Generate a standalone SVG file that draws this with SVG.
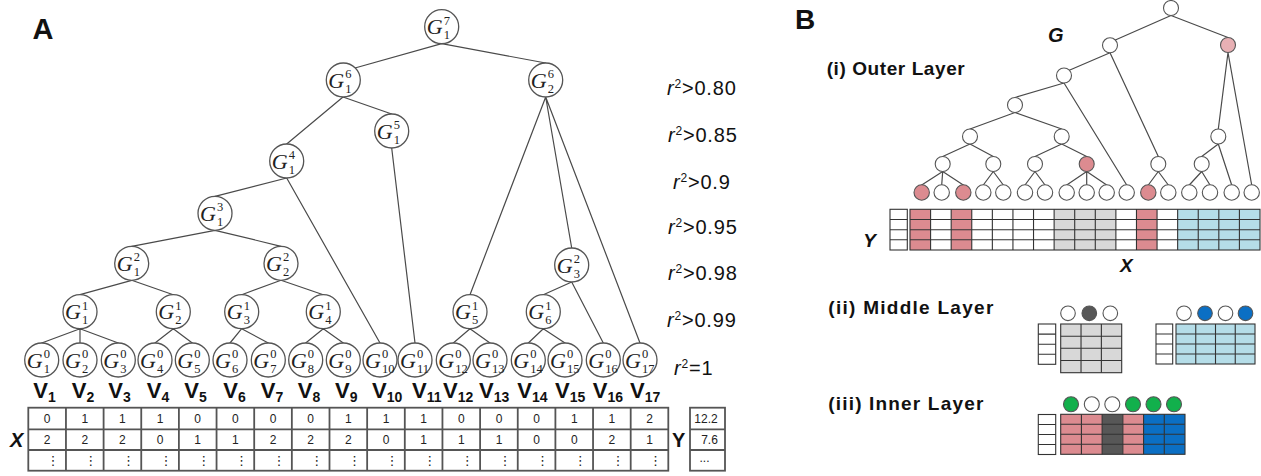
<svg xmlns="http://www.w3.org/2000/svg" width="1261" height="476" viewBox="0 0 1261 476">
<style>
.bg{fill:#fff}
.edge{stroke:#4a4a4a;stroke-width:1.2;fill:none;stroke-linecap:round}
.na circle{fill:#fff;stroke:#555;stroke-width:1.3}
.lab{font-family:"Liberation Serif","DejaVu Serif",serif;font-size:12.5px;fill:#222}
.G{font-style:italic;font-size:22px}
.V{font-family:"Liberation Sans",Arial,sans-serif;font-weight:bold;font-size:22px;fill:#111}
.vs{font-size:14px}
.r2{font-family:"Liberation Sans",Arial,sans-serif;font-size:20px;letter-spacing:0.8px;fill:#111}
.num{font-family:"Liberation Sans",Arial,sans-serif;font-size:12px;text-anchor:middle;fill:#222}
.dots{font-family:"DejaVu Sans",sans-serif;font-size:13px;text-anchor:middle;fill:#222}
.grid{fill:none;stroke:#555;stroke-width:1.8}
.gridB{fill:none;stroke:#333;stroke-width:1.1}
.nb{fill:#fff;stroke:#555;stroke-width:1.1}
.pink{fill:#dc8b90}
.lpink{fill:#e8b0b4}
.gray{fill:#d8d8d8}
.dgray{fill:#575757}
.lblue{fill:#b5dde8}
.blue{fill:#0b6fc4}
.green{fill:#12b04c}
.big{font-family:"Liberation Sans",Arial,sans-serif;font-weight:bold;fill:#111}
.bi{font-family:"Liberation Sans",Arial,sans-serif;font-weight:bold;font-style:italic;fill:#111}
</style>
<rect class="bg" x="0" y="0" width="1261" height="476"/>

<!-- Panel labels -->
<text class="big" x="32.5" y="39.3" font-size="29">A</text>
<text class="big" x="795" y="29" font-size="28">B</text>

<!-- Panel A connectors -->
<g id="connectorsA" class="edge">
<path d="M441.7,43.7L355,68 M441.7,43.7L545.7,63 M343,97L286.7,144 M343,97L391.7,114 M545.7,97L470,294.7 M545.7,97L571.7,248 M545.7,97L640,343 M391.7,148L415,343 M286.7,178L215,196.3 M286.7,178L380,343 M215,230.3L131.7,246.3 M215,230.3L281,246.3 M131.7,280.3L80,294.7 M131.7,280.3L173.3,294.7 M281,280.3L241.7,294.7 M281,280.3L323.3,294.7 M571.7,282L543.3,294.7 M571.7,282L603.3,343 M80,328.7L41.7,343 M80,328.7L80,343 M80,328.7L118.3,343 M173.3,328.7L155,343 M173.3,328.7L192.3,343 M241.7,328.7L230,343 M241.7,328.7L268.3,343 M323.3,328.7L305.7,343 M323.3,328.7L343.3,343 M470,328.7L453.3,343 M470,328.7L490,343 M543.3,328.7L528.3,343 M543.3,328.7L565,343"/>
</g>

<!-- Panel A nodes -->
<g id="nodesA" class="na">
<g id="G7_1" transform="translate(441.7,26.7)"><circle r="17"/><text class="lab"><tspan class="G" x="-15" y="7.5">G</tspan><tspan x="2" y="-2">7</tspan><tspan x="2" y="12.8">1</tspan></text></g>
<g id="G6_1" transform="translate(343.3,80)"><circle r="17"/><text class="lab"><tspan class="G" x="-15" y="7.5">G</tspan><tspan x="2" y="-2">6</tspan><tspan x="2" y="12.8">1</tspan></text></g>
<g id="G6_2" transform="translate(545.7,80)"><circle r="17"/><text class="lab"><tspan class="G" x="-15" y="7.5">G</tspan><tspan x="2" y="-2">6</tspan><tspan x="2" y="12.8">2</tspan></text></g>
<g id="G5_1" transform="translate(391.7,131)"><circle r="17"/><text class="lab"><tspan class="G" x="-15" y="7.5">G</tspan><tspan x="2" y="-2">5</tspan><tspan x="2" y="12.8">1</tspan></text></g>
<g id="G4_1" transform="translate(286.7,161)"><circle r="17"/><text class="lab"><tspan class="G" x="-15" y="7.5">G</tspan><tspan x="2" y="-2">4</tspan><tspan x="2" y="12.8">1</tspan></text></g>
<g id="G3_1" transform="translate(215,213.3)"><circle r="17"/><text class="lab"><tspan class="G" x="-15" y="7.5">G</tspan><tspan x="2" y="-2">3</tspan><tspan x="2" y="12.8">1</tspan></text></g>
<g id="G2_1" transform="translate(131.7,263.3)"><circle r="17"/><text class="lab"><tspan class="G" x="-15" y="7.5">G</tspan><tspan x="2" y="-2">2</tspan><tspan x="2" y="12.8">1</tspan></text></g>
<g id="G2_2" transform="translate(281,263.3)"><circle r="17"/><text class="lab"><tspan class="G" x="-15" y="7.5">G</tspan><tspan x="2" y="-2">2</tspan><tspan x="2" y="12.8">2</tspan></text></g>
<g id="G2_3" transform="translate(571.7,265)"><circle r="17"/><text class="lab"><tspan class="G" x="-15" y="7.5">G</tspan><tspan x="2" y="-2">2</tspan><tspan x="2" y="12.8">3</tspan></text></g>
<g id="G1_1" transform="translate(80,311.7)"><circle r="17"/><text class="lab"><tspan class="G" x="-15" y="7.5">G</tspan><tspan x="2" y="-2">1</tspan><tspan x="2" y="12.8">1</tspan></text></g>
<g id="G1_2" transform="translate(173.3,311.7)"><circle r="17"/><text class="lab"><tspan class="G" x="-15" y="7.5">G</tspan><tspan x="2" y="-2">1</tspan><tspan x="2" y="12.8">2</tspan></text></g>
<g id="G1_3" transform="translate(241.7,311.7)"><circle r="17"/><text class="lab"><tspan class="G" x="-15" y="7.5">G</tspan><tspan x="2" y="-2">1</tspan><tspan x="2" y="12.8">3</tspan></text></g>
<g id="G1_4" transform="translate(323.3,311.7)"><circle r="17"/><text class="lab"><tspan class="G" x="-15" y="7.5">G</tspan><tspan x="2" y="-2">1</tspan><tspan x="2" y="12.8">4</tspan></text></g>
<g id="G1_5" transform="translate(470,311.7)"><circle r="17"/><text class="lab"><tspan class="G" x="-15" y="7.5">G</tspan><tspan x="2" y="-2">1</tspan><tspan x="2" y="12.8">5</tspan></text></g>
<g id="G1_6" transform="translate(543.3,311.7)"><circle r="17"/><text class="lab"><tspan class="G" x="-15" y="7.5">G</tspan><tspan x="2" y="-2">1</tspan><tspan x="2" y="12.8">6</tspan></text></g>
<g id="G0_1" transform="translate(41.7,360)"><circle r="17"/><text class="lab"><tspan class="G" x="-15" y="7.5">G</tspan><tspan x="2" y="-2">0</tspan><tspan x="2" y="12.8">1</tspan></text></g>
<g id="G0_2" transform="translate(80,360)"><circle r="17"/><text class="lab"><tspan class="G" x="-15" y="7.5">G</tspan><tspan x="2" y="-2">0</tspan><tspan x="2" y="12.8">2</tspan></text></g>
<g id="G0_3" transform="translate(118.3,360)"><circle r="17"/><text class="lab"><tspan class="G" x="-15" y="7.5">G</tspan><tspan x="2" y="-2">0</tspan><tspan x="2" y="12.8">3</tspan></text></g>
<g id="G0_4" transform="translate(155,360)"><circle r="17"/><text class="lab"><tspan class="G" x="-15" y="7.5">G</tspan><tspan x="2" y="-2">0</tspan><tspan x="2" y="12.8">4</tspan></text></g>
<g id="G0_5" transform="translate(192.3,360)"><circle r="17"/><text class="lab"><tspan class="G" x="-15" y="7.5">G</tspan><tspan x="2" y="-2">0</tspan><tspan x="2" y="12.8">5</tspan></text></g>
<g id="G0_6" transform="translate(230,360)"><circle r="17"/><text class="lab"><tspan class="G" x="-15" y="7.5">G</tspan><tspan x="2" y="-2">0</tspan><tspan x="2" y="12.8">6</tspan></text></g>
<g id="G0_7" transform="translate(268.3,360)"><circle r="17"/><text class="lab"><tspan class="G" x="-15" y="7.5">G</tspan><tspan x="2" y="-2">0</tspan><tspan x="2" y="12.8">7</tspan></text></g>
<g id="G0_8" transform="translate(305.7,360)"><circle r="17"/><text class="lab"><tspan class="G" x="-15" y="7.5">G</tspan><tspan x="2" y="-2">0</tspan><tspan x="2" y="12.8">8</tspan></text></g>
<g id="G0_9" transform="translate(343.3,360)"><circle r="17"/><text class="lab"><tspan class="G" x="-15" y="7.5">G</tspan><tspan x="2" y="-2">0</tspan><tspan x="2" y="12.8">9</tspan></text></g>
<g id="G0_10" transform="translate(380,360)"><circle r="17"/><text class="lab"><tspan class="G" x="-15" y="7.5">G</tspan><tspan x="2" y="-2">0</tspan><tspan x="2" y="12.8">10</tspan></text></g>
<g id="G0_11" transform="translate(415,360)"><circle r="17"/><text class="lab"><tspan class="G" x="-15" y="7.5">G</tspan><tspan x="2" y="-2">0</tspan><tspan x="2" y="12.8">11</tspan></text></g>
<g id="G0_12" transform="translate(453.3,360)"><circle r="17"/><text class="lab"><tspan class="G" x="-15" y="7.5">G</tspan><tspan x="2" y="-2">0</tspan><tspan x="2" y="12.8">12</tspan></text></g>
<g id="G0_13" transform="translate(490,360)"><circle r="17"/><text class="lab"><tspan class="G" x="-15" y="7.5">G</tspan><tspan x="2" y="-2">0</tspan><tspan x="2" y="12.8">13</tspan></text></g>
<g id="G0_14" transform="translate(528.3,360)"><circle r="17"/><text class="lab"><tspan class="G" x="-15" y="7.5">G</tspan><tspan x="2" y="-2">0</tspan><tspan x="2" y="12.8">14</tspan></text></g>
<g id="G0_15" transform="translate(565,360)"><circle r="17"/><text class="lab"><tspan class="G" x="-15" y="7.5">G</tspan><tspan x="2" y="-2">0</tspan><tspan x="2" y="12.8">15</tspan></text></g>
<g id="G0_16" transform="translate(603.3,360)"><circle r="17"/><text class="lab"><tspan class="G" x="-15" y="7.5">G</tspan><tspan x="2" y="-2">0</tspan><tspan x="2" y="12.8">16</tspan></text></g>
<g id="G0_17" transform="translate(640,360)"><circle r="17"/><text class="lab"><tspan class="G" x="-15" y="7.5">G</tspan><tspan x="2" y="-2">0</tspan><tspan x="2" y="12.8">17</tspan></text></g>
</g>

<!-- r^2 thresholds -->
<g id="thresholds" class="r2">
<text x="667" y="94.5"><tspan font-style="italic">r</tspan><tspan font-size="12" dy="-7">2</tspan><tspan dy="7">&gt;0.80</tspan></text>
<text x="668" y="141.5"><tspan font-style="italic">r</tspan><tspan font-size="12" dy="-7">2</tspan><tspan dy="7">&gt;0.85</tspan></text>
<text x="673" y="188.5"><tspan font-style="italic">r</tspan><tspan font-size="12" dy="-7">2</tspan><tspan dy="7">&gt;0.9</tspan></text>
<text x="668" y="233.5"><tspan font-style="italic">r</tspan><tspan font-size="12" dy="-7">2</tspan><tspan dy="7">&gt;0.95</tspan></text>
<text x="668" y="280"><tspan font-style="italic">r</tspan><tspan font-size="12" dy="-7">2</tspan><tspan dy="7">&gt;0.98</tspan></text>
<text x="667" y="327"><tspan font-style="italic">r</tspan><tspan font-size="12" dy="-7">2</tspan><tspan dy="7">&gt;0.99</tspan></text>
<text x="674" y="375"><tspan font-style="italic">r</tspan><tspan font-size="12" dy="-7">2</tspan><tspan dy="7">=1</tspan></text>
</g>

<!-- V labels -->
<g id="vlabels" class="V">
<text x="33.3" y="397.5">V<tspan class="vs" dy="4">1</tspan></text>
<text x="71.7" y="397.5">V<tspan class="vs" dy="4">2</tspan></text>
<text x="108.3" y="397.5">V<tspan class="vs" dy="4">3</tspan></text>
<text x="146.7" y="397.5">V<tspan class="vs" dy="4">4</tspan></text>
<text x="184.3" y="397.5">V<tspan class="vs" dy="4">5</tspan></text>
<text x="223.3" y="397.5">V<tspan class="vs" dy="4">6</tspan></text>
<text x="260.7" y="397.5">V<tspan class="vs" dy="4">7</tspan></text>
<text x="297.7" y="397.5">V<tspan class="vs" dy="4">8</tspan></text>
<text x="335" y="397.5">V<tspan class="vs" dy="4">9</tspan></text>
<text x="372" y="397.5">V<tspan class="vs" dy="4">10</tspan></text>
<text x="412" y="397.5">V<tspan class="vs" dy="4">11</tspan></text>
<text x="443" y="397.5">V<tspan class="vs" dy="4">12</tspan></text>
<text x="479" y="397.5">V<tspan class="vs" dy="4">13</tspan></text>
<text x="517.3" y="397.5">V<tspan class="vs" dy="4">14</tspan></text>
<text x="555" y="397.5">V<tspan class="vs" dy="4">15</tspan></text>
<text x="592.7" y="397.5">V<tspan class="vs" dy="4">16</tspan></text>
<text x="630" y="397.5">V<tspan class="vs" dy="4">17</tspan></text>
</g>

<!-- X table -->
<g id="tableX">
<rect class="grid" x="28.3" y="407.7" width="640" height="63"/>
<path class="grid" d="M28.3,429.3H668.3 M28.3,450H668.3 M65.95,407.7V470.7 M103.6,407.7V470.7 M141.25,407.7V470.7 M178.9,407.7V470.7 M216.55,407.7V470.7 M254.2,407.7V470.7 M291.85,407.7V470.7 M329.5,407.7V470.7 M367.15,407.7V470.7 M404.8,407.7V470.7 M442.45,407.7V470.7 M480.1,407.7V470.7 M517.75,407.7V470.7 M555.4,407.7V470.7 M593.05,407.7V470.7 M630.7,407.7V470.7"/>
<g class="num">
<text x="47.1" y="423">0</text><text x="84.8" y="423">1</text><text x="122.4" y="423">1</text><text x="160.1" y="423">1</text><text x="197.7" y="423">0</text><text x="235.4" y="423">0</text><text x="273" y="423">0</text><text x="310.7" y="423">0</text><text x="348.4" y="423">1</text><text x="386" y="423">1</text><text x="423.7" y="423">1</text><text x="461.3" y="423">0</text><text x="499" y="423">0</text><text x="536.6" y="423">0</text><text x="574.3" y="423">1</text><text x="611.9" y="423">1</text><text x="649.6" y="423">2</text>
<text x="47.1" y="444">2</text><text x="84.8" y="444">2</text><text x="122.4" y="444">2</text><text x="160.1" y="444">0</text><text x="197.7" y="444">1</text><text x="235.4" y="444">1</text><text x="273" y="444">2</text><text x="310.7" y="444">2</text><text x="348.4" y="444">2</text><text x="386" y="444">0</text><text x="423.7" y="444">1</text><text x="461.3" y="444">1</text><text x="499" y="444">1</text><text x="536.6" y="444">0</text><text x="574.3" y="444">0</text><text x="611.9" y="444">2</text><text x="649.6" y="444">1</text>
</g>
<g class="dots">
<text x="53.1" y="465">⋮</text><text x="90.8" y="465">⋮</text><text x="128.4" y="465">⋮</text><text x="166.1" y="465">⋮</text><text x="203.7" y="465">⋮</text><text x="241.4" y="465">⋮</text><text x="279" y="465">⋮</text><text x="316.7" y="465">⋮</text><text x="354.4" y="465">⋮</text><text x="392" y="465">⋮</text><text x="429.7" y="465">⋮</text><text x="467.3" y="465">⋮</text><text x="505" y="465">⋮</text><text x="542.6" y="465">⋮</text><text x="580.3" y="465">⋮</text><text x="617.9" y="465">⋮</text><text x="655.6" y="465">⋮</text>
</g>
<text class="bi" x="10" y="446.7" font-size="20">X</text>
</g>

<!-- Y table A -->
<g id="tableY">
<rect class="grid" x="690" y="407.7" width="35" height="63"/>
<path class="grid" d="M690,429.3H725 M690,450H725"/>
<text class="num" x="706" y="423">12.2</text>
<text class="num" x="709.5" y="444">7.6</text>
<text class="num" x="704.5" y="462">...</text>
<text class="big" x="672" y="446.7" font-size="20">Y</text>
</g>

<!-- Panel B labels -->
<text class="bi" x="1048" y="41.7" font-size="20">G</text>
<text class="big" x="826.7" y="75" font-size="19" textLength="138" lengthAdjust="spacing">(i) Outer Layer</text>
<text class="big" x="828.3" y="314" font-size="19" textLength="165" lengthAdjust="spacing">(ii) Middle Layer</text>
<text class="big" x="828.3" y="410" font-size="19" textLength="155" lengthAdjust="spacing">(iii) Inner Layer</text>

<!-- Panel B connectors -->
<g id="connectorsB" class="edge">
<path d="M1171,15.5L1115.3,40 M1171,15.5L1228,37.5 M1110,52.8L1069.3,70.2 M1110,52.8L1158.3,156.5 M1228,52.5L1218.3,129 M1228,52.5L1251.7,185 M1064,83L1015,97.5 M1064,83L1126.7,185 M1015,112.5L970,129 M1015,112.5L1061.7,129 M970,144L942.7,156.5 M970,144L993.3,156.5 M1061.7,144L1035,156.5 M1061.7,144L1086.7,156.5 M1218.3,144L1201.7,156.5 M1218.3,144L1231.7,185 M942.7,171.5L921.7,185 M942.7,171.5L941.7,185 M942.7,171.5L963.3,185 M993.3,171.5L983.3,185 M993.3,171.5L1003.3,185 M1035,171.5L1025,185 M1035,171.5L1045,185 M1086.7,171.5L1066.7,185 M1086.7,171.5L1086.7,185 M1086.7,171.5L1106.7,185 M1158.3,171.5L1148.3,185 M1158.3,171.5L1168.3,185 M1201.7,171.5L1189.3,185 M1201.7,171.5L1210,185"/>
</g>

<!-- Panel B tree nodes -->
<g id="nodesB">
<circle id="b_root" class="nb" cx="1171" cy="8" r="7.5"/>
<circle id="b_l1a" class="nb" cx="1110" cy="45.3" r="7.5"/>
<circle id="b_l1b" class="nb lpink" cx="1228" cy="45" r="7.5"/>
<circle id="b_l2" class="nb" cx="1064" cy="75.5" r="7.5"/>
<circle id="b_l3" class="nb" cx="1015" cy="105" r="7.5"/>
<circle id="b_l4a" class="nb" cx="970" cy="136.5" r="7.5"/>
<circle id="b_l4b" class="nb" cx="1061.7" cy="136.5" r="7.5"/>
<circle id="b_l4c" class="nb" cx="1218.3" cy="136.5" r="7.5"/>
<circle id="b_l5a" class="nb" cx="942.7" cy="164" r="7.5"/>
<circle id="b_l5b" class="nb" cx="993.3" cy="164" r="7.5"/>
<circle id="b_l5c" class="nb" cx="1035" cy="164" r="7.5"/>
<circle id="b_l5d" class="nb pink" cx="1086.7" cy="164" r="7.5"/>
<circle id="b_l5e" class="nb" cx="1158.3" cy="164" r="7.5"/>
<circle id="b_l5f" class="nb" cx="1201.7" cy="164" r="7.5"/>
<circle id="b_v1" class="nb pink" cx="921.7" cy="192.5" r="7.7"/>
<circle id="b_v2" class="nb" cx="941.7" cy="192.5" r="7.7"/>
<circle id="b_v3" class="nb pink" cx="963.3" cy="192.5" r="7.7"/>
<circle id="b_v4" class="nb" cx="983.3" cy="192.5" r="7.7"/>
<circle id="b_v5" class="nb" cx="1003.3" cy="192.5" r="7.7"/>
<circle id="b_v6" class="nb" cx="1025" cy="192.5" r="7.7"/>
<circle id="b_v7" class="nb" cx="1045" cy="192.5" r="7.7"/>
<circle id="b_v8" class="nb" cx="1066.7" cy="192.5" r="7.7"/>
<circle id="b_v9" class="nb" cx="1086.7" cy="192.5" r="7.7"/>
<circle id="b_v10" class="nb" cx="1106.7" cy="192.5" r="7.7"/>
<circle id="b_v11" class="nb" cx="1126.7" cy="192.5" r="7.7"/>
<circle id="b_v12" class="nb pink" cx="1148.3" cy="192.5" r="7.7"/>
<circle id="b_v13" class="nb" cx="1168.3" cy="192.5" r="7.7"/>
<circle id="b_v14" class="nb" cx="1189.3" cy="192.5" r="7.7"/>
<circle id="b_v15" class="nb" cx="1210" cy="192.5" r="7.7"/>
<circle id="b_v16" class="nb" cx="1231.7" cy="192.5" r="7.7"/>
<circle id="b_v17" class="nb" cx="1251.7" cy="192.5" r="7.7"/>
</g>

<!-- Panel B outer table -->
<g id="outerTable">
<rect class="pink" x="910" y="209.3" width="20.59" height="40.7"/>
<rect class="pink" x="951.18" y="209.3" width="20.58" height="40.7"/>
<rect class="gray" x="1054.12" y="209.3" width="61.76" height="40.7"/>
<rect class="pink" x="1136.47" y="209.3" width="20.59" height="40.7"/>
<rect class="lblue" x="1177.65" y="209.3" width="82.35" height="40.7"/>
<rect class="gridB" x="910" y="209.3" width="350" height="40.7"/>
<path class="gridB" d="M910,219.5H1260 M910,229.7H1260 M910,239.8H1260 M930.59,209.3V250 M951.18,209.3V250 M971.76,209.3V250 M992.35,209.3V250 M1012.94,209.3V250 M1033.53,209.3V250 M1054.12,209.3V250 M1074.71,209.3V250 M1095.29,209.3V250 M1115.88,209.3V250 M1136.47,209.3V250 M1157.06,209.3V250 M1177.65,209.3V250 M1198.24,209.3V250 M1218.82,209.3V250 M1239.41,209.3V250"/>
<rect class="gridB" x="890" y="209.3" width="17.3" height="40.7" fill="#fff"/>
<path class="gridB" d="M890,219.5H907.3 M890,229.7H907.3 M890,239.8H907.3"/>
<text class="bi" x="863.3" y="246.7" font-size="19">Y</text>
<text class="bi" x="1120" y="271.7" font-size="19">X</text>
</g>

<!-- Middle layer: gray block -->
<g id="middleGray">
<circle class="nb" cx="1068" cy="313.3" r="7.3"/>
<circle class="nb dgray" cx="1089.3" cy="313.3" r="7.3"/>
<circle class="nb" cx="1110.3" cy="313.3" r="7.3"/>
<rect class="gray" x="1060.7" y="324" width="61" height="48.7"/>
<rect class="gridB" x="1060.7" y="324" width="61" height="48.7"/>
<path class="gridB" d="M1060.7,336.2H1121.7 M1060.7,348.3H1121.7 M1060.7,360.5H1121.7 M1081.03,324V372.7 M1101.37,324V372.7"/>
<rect class="gridB" x="1038.3" y="324" width="17.4" height="40.3" fill="#fff"/>
<path class="gridB" d="M1038.3,334.1H1055.7 M1038.3,344.2H1055.7 M1038.3,354.2H1055.7"/>
</g>

<!-- Middle layer: blue block -->
<g id="middleBlue">
<circle class="nb" cx="1184" cy="313.3" r="7.3"/>
<circle class="nb blue" cx="1205" cy="313.3" r="7.3"/>
<circle class="nb" cx="1225.5" cy="313.3" r="7.3"/>
<circle class="nb blue" cx="1245.5" cy="313.3" r="7.3"/>
<rect class="lblue" x="1176" y="324" width="79" height="40"/>
<rect class="gridB" x="1176" y="324" width="79" height="40"/>
<path class="gridB" d="M1176,334H1255 M1176,344H1255 M1176,354H1255 M1195.75,324V364 M1215.5,324V364 M1235.25,324V364"/>
<rect class="gridB" x="1156" y="324" width="16.7" height="40" fill="#fff"/>
<path class="gridB" d="M1156,334H1172.7 M1156,344H1172.7 M1156,354H1172.7"/>
</g>

<!-- Inner layer -->
<g id="inner">
<circle class="nb green" cx="1071" cy="404.3" r="7.5"/>
<circle class="nb" cx="1091.8" cy="404.3" r="7.5"/>
<circle class="nb" cx="1112.3" cy="404.3" r="7.5"/>
<circle class="nb green" cx="1133" cy="404.3" r="7.5"/>
<circle class="nb green" cx="1153.5" cy="404.3" r="7.5"/>
<circle class="nb green" cx="1174" cy="404.3" r="7.5"/>
<rect class="pink" x="1060.7" y="414.3" width="41.43" height="40"/>
<rect class="dgray" x="1102.13" y="414.3" width="20.72" height="40"/>
<rect class="pink" x="1122.85" y="414.3" width="20.72" height="40"/>
<rect class="blue" x="1143.57" y="414.3" width="41.43" height="40"/>
<rect class="gridB" x="1060.7" y="414.3" width="124.3" height="40"/>
<path class="gridB" d="M1060.7,424.3H1185 M1060.7,434.3H1185 M1060.7,444.3H1185 M1081.42,414.3V454.3 M1102.13,414.3V454.3 M1122.85,414.3V454.3 M1143.57,414.3V454.3 M1164.28,414.3V454.3"/>
<rect class="gridB" x="1038.3" y="414.5" width="17.4" height="40" fill="#fff"/>
<path class="gridB" d="M1038.3,424.5H1055.7 M1038.3,434.5H1055.7 M1038.3,444.5H1055.7"/>
</g>
</svg>
